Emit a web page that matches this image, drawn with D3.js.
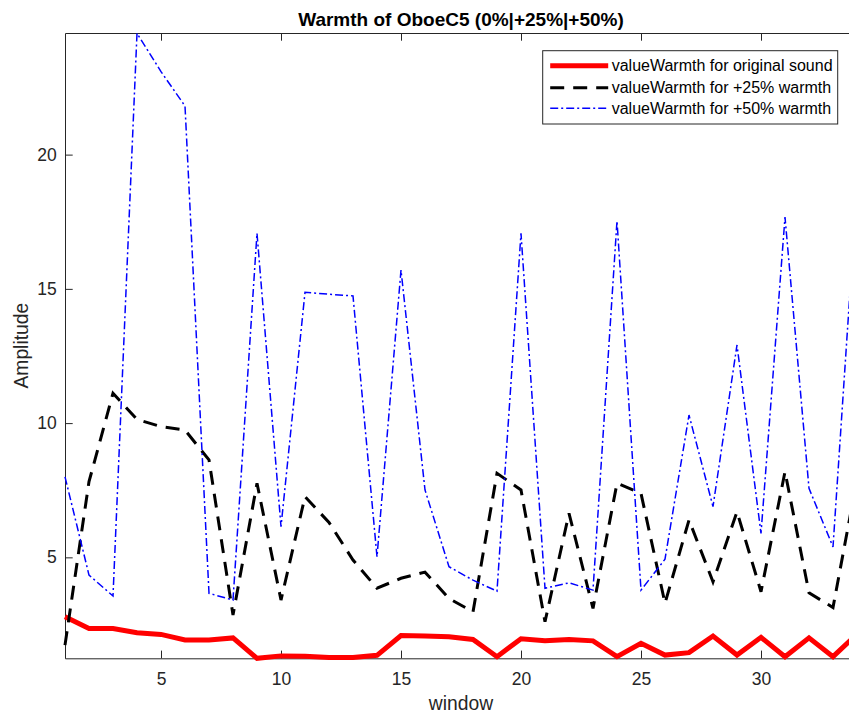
<!DOCTYPE html>
<html>
<head>
<meta charset="utf-8">
<script src="https://cdn.jsdelivr.net/npm/d3@7"></script>
<style>
  html, body { margin: 0; padding: 0; background: #fff; overflow: hidden; }
  svg { display: block; font-family: "Liberation Sans", Arial, Helvetica, sans-serif; }
</style>
</head>
<body>
<svg id="chart" width="849" height="718"></svg>
<script>
// ---- data ----
const windows = d3.range(1, 35);
const original = [2.79, 2.35, 2.35, 2.19, 2.13, 1.92, 1.92, 2.00, 1.24, 1.33, 1.32, 1.27, 1.27, 1.35, 2.09, 2.07, 2.04, 1.94, 1.30, 1.97, 1.89, 1.94, 1.89, 1.30, 1.80, 1.36, 1.45, 2.07, 1.36, 2.02, 1.30, 2.00, 1.30, 2.14];
const warmth25 = [1.73, 7.82, 11.11, 10.14, 9.87, 9.74, 8.63, 2.85, 7.76, 3.41, 7.26, 6.30, 4.90, 3.85, 4.22, 4.45, 3.47, 2.97, 8.13, 7.51, 2.60, 6.64, 3.10, 7.76, 7.38, 3.29, 6.39, 4.09, 6.70, 3.72, 8.19, 3.68, 3.13, 7.91];
const warmth50 = [8.00, 4.34, 3.56, 24.52, 23.09, 21.81, 3.66, 3.41, 17.07, 6.14, 14.87, 14.80, 14.74, 5.02, 15.70, 7.51, 4.65, 4.15, 3.74, 17.07, 3.85, 4.05, 3.78, 17.53, 3.78, 4.93, 10.30, 6.89, 12.91, 5.89, 17.67, 7.57, 5.39, 18.8];
const seriesNames = ["valueWarmth for original sound", "valueWarmth for +25% warmth", "valueWarmth for +50% warmth"];
const xTicks = [5, 10, 15, 20, 25, 30];
const yTicks = [5, 10, 15, 20];
const xDomain = [1, 34];
const yDomain = [1.24, 24.53];
const titleText = "Warmth of OboeC5 (0%|+25%|+50%)";
const xLabel = "window";
const yLabel = "Amplitude";

// ---- layout ----
const mLeft = 65, mTop = 33, plotW = 792, plotH = 625.3;
const axisColor = "#262626";
const svg = d3.select("#chart");

const x = d3.scaleLinear().domain(xDomain).range([mLeft, mLeft + plotW]);
const y = d3.scaleLinear().domain(yDomain).range([mTop + plotH, mTop]);

const tickLen = 7.7;
const tickFont = 17.5;

function styleAxis(g) {
  g.selectAll("path.domain").attr("stroke", axisColor).attr("stroke-width", 1);
  g.selectAll(".tick line").attr("stroke", axisColor).attr("stroke-width", 1);
  g.selectAll(".tick text").attr("fill", axisColor).attr("font-size", tickFont)
    .attr("font-family", '"Liberation Sans", Arial, sans-serif');
}

// bottom axis
svg.append("g").attr("transform", `translate(0,${mTop + plotH})`)
  .call(d3.axisBottom(x).tickValues(xTicks).tickSizeInner(-tickLen).tickSizeOuter(0).tickPadding(14).tickFormat(d3.format("d")))
  .call(styleAxis);
// top axis
svg.append("g").attr("transform", `translate(0,${mTop})`)
  .call(d3.axisTop(x).tickValues(xTicks).tickSizeInner(-tickLen).tickSizeOuter(0).tickFormat(""))
  .call(styleAxis);
// left axis
svg.append("g").attr("transform", `translate(${mLeft},0)`)
  .call(d3.axisLeft(y).tickValues(yTicks).tickSizeInner(-tickLen).tickSizeOuter(0).tickPadding(8.3).tickFormat(d3.format("d")))
  .call(styleAxis);
// right axis
svg.append("g").attr("transform", `translate(${mLeft + plotW},0)`)
  .call(d3.axisRight(y).tickValues(yTicks).tickSizeInner(-tickLen).tickSizeOuter(0).tickFormat(""))
  .call(styleAxis);

// ---- lines ----
const line = d3.line().x((d, i) => x(windows[i])).y(d => y(d));
const styles = [
  { data: original, color: "#ff0000", width: 5, dash: null },
  { data: warmth25, color: "#000000", width: 3, dash: "14,9" },
  { data: warmth50, color: "#0000ff", width: 1.5, dash: "8,3,2,3" }
];
styles.forEach(s => {
  svg.append("path").datum(s.data)
    .attr("d", line)
    .attr("fill", "none")
    .attr("stroke", s.color)
    .attr("stroke-width", s.width)
    .attr("stroke-linejoin", "miter")
    .attr("stroke-dasharray", s.dash);
});

// ---- title & labels ----
svg.append("text").attr("x", mLeft + plotW / 2).attr("y", 26)
  .attr("text-anchor", "middle").attr("font-weight", "bold").attr("font-size", 19)
  .attr("fill", "#000").text(titleText);
svg.append("text").attr("x", mLeft + plotW / 2).attr("y", 710)
  .attr("text-anchor", "middle").attr("font-size", 19.3)
  .attr("fill", axisColor).text(xLabel);
svg.append("text").attr("transform", `translate(28,${mTop + plotH / 2}) rotate(-90)`)
  .attr("text-anchor", "middle").attr("font-size", 19.3)
  .attr("fill", axisColor).text(yLabel);

// ---- legend ----
const lg = svg.append("g").attr("transform", "translate(542.7,50.7)");
lg.append("rect").attr("width", 295).attr("height", 73.3)
  .attr("fill", "#fff").attr("stroke", axisColor).attr("stroke-width", 1);
const rowY = [15, 37, 57.6];
styles.forEach((s, i) => {
  lg.append("line").attr("x1", 7.5).attr("x2", 65.5).attr("y1", rowY[i]).attr("y2", rowY[i])
    .attr("stroke", s.color).attr("stroke-width", s.width).attr("stroke-dasharray", s.dash);
  lg.append("text").attr("x", 69).attr("y", rowY[i]).attr("dy", "0.35em")
    .attr("font-size", 16).attr("fill", "#000").text(seriesNames[i]);
});
</script>
</body>
</html>
